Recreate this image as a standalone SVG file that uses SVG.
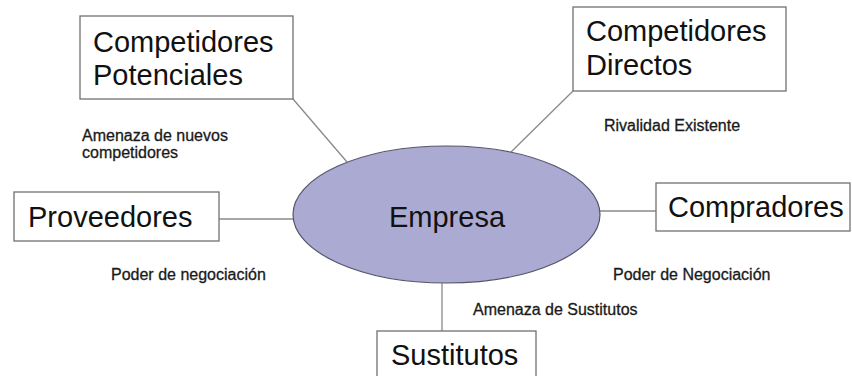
<svg xmlns="http://www.w3.org/2000/svg" width="852" height="376" viewBox="0 0 852 376">
  <style>
    .box { fill: #ffffff; stroke: #707070; stroke-width: 1.3; }
    .big { font-family: "Liberation Sans", Arial, sans-serif; font-size: 29px; fill: #111111; }
    .small { font-family: "Liberation Sans", Arial, sans-serif; font-size: 16px; fill: #1a1a1a; stroke: #1a1a1a; stroke-width: 0.3; }
    .conn { stroke: #8a8a8a; stroke-width: 1.3; fill: none; }
  </style>
  <rect x="0" y="0" width="852" height="376" fill="#ffffff"/>
  <g id="connectors">
    <line class="conn" x1="293" y1="99" x2="347" y2="162"/>
    <line class="conn" x1="573" y1="91" x2="509" y2="154"/>
    <line class="conn" x1="219" y1="219" x2="294" y2="219"/>
    <line class="conn" x1="599" y1="211" x2="656" y2="211"/>
    <line class="conn" x1="442" y1="283" x2="442" y2="331"/>
  </g>
  <g id="empresa">
    <ellipse cx="446.5" cy="214.5" rx="153.5" ry="68.5" fill="#aaaad2" stroke="#55556a" stroke-width="1.2"/>
    <text class="big" x="447" y="227" text-anchor="middle">Empresa</text>
  </g>
  <g id="competidores-potenciales">
    <rect class="box" x="80" y="16" width="213" height="83"/>
    <text class="big" x="93" y="52">Competidores</text>
    <text class="big" x="93" y="85">Potenciales</text>
  </g>
  <g id="competidores-directos">
    <rect class="box" x="573" y="7" width="213" height="84"/>
    <text class="big" x="586" y="41">Competidores</text>
    <text class="big" x="586" y="75">Directos</text>
  </g>
  <g id="proveedores">
    <rect class="box" x="14" y="192" width="205" height="49"/>
    <text class="big" x="28" y="227">Proveedores</text>
  </g>
  <g id="compradores">
    <rect class="box" x="656" y="183" width="194" height="48"/>
    <text class="big" x="668" y="217">Compradores</text>
  </g>
  <g id="sustitutos">
    <rect class="box" x="377" y="331" width="159" height="50"/>
    <text class="big" x="391" y="365">Sustitutos</text>
  </g>
  <g id="labels">
    <text class="small" x="82" y="141">Amenaza de nuevos</text>
    <text class="small" x="82" y="158">competidores</text>
    <text class="small" x="604" y="131">Rivalidad Existente</text>
    <text class="small" x="111" y="280">Poder de negociación</text>
    <text class="small" x="613" y="280">Poder de Negociación</text>
    <text class="small" x="473" y="315">Amenaza de Sustitutos</text>
  </g>
</svg>
